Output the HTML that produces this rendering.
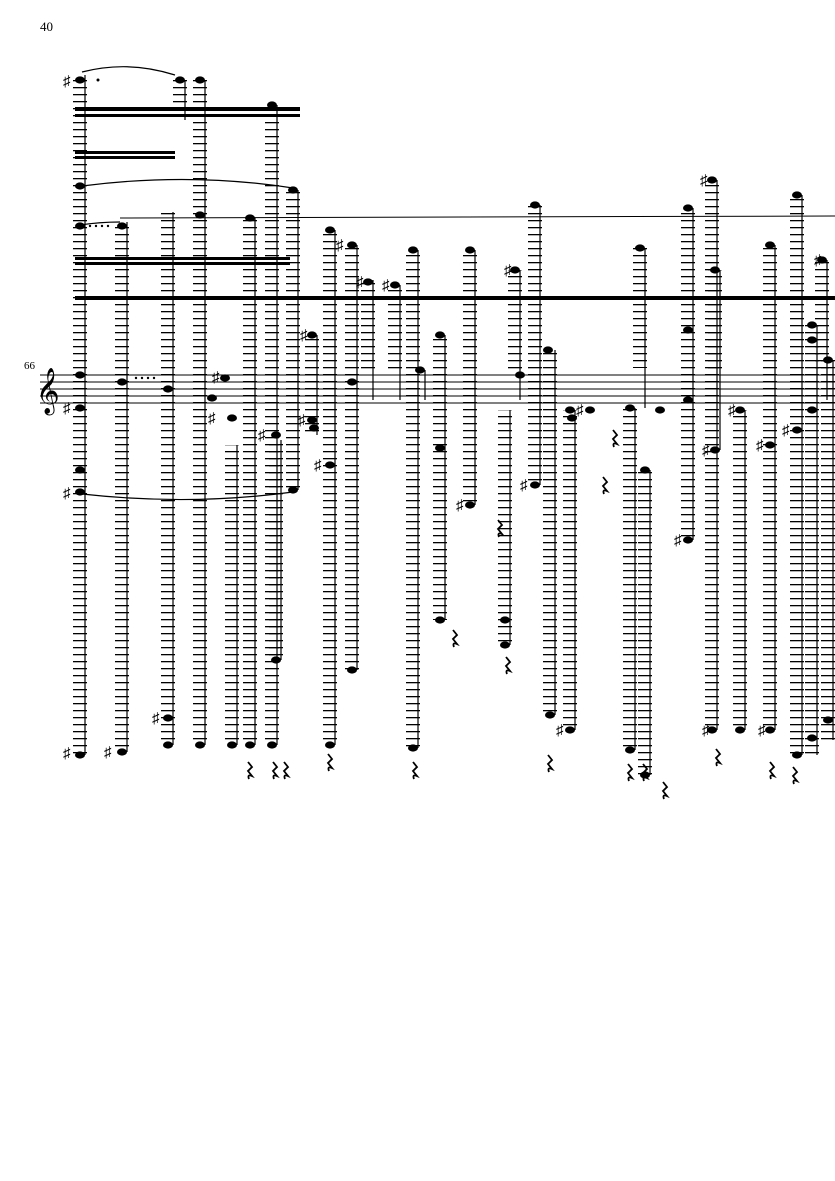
<!DOCTYPE html>
<html><head><meta charset="utf-8"><style>
html,body{margin:0;padding:0;background:#fff;}
svg{display:block}
text{font-family:"Liberation Serif","DejaVu Serif",serif;}
</style></head><body>
<svg width="835" height="1181" viewBox="0 0 835 1181" xmlns="http://www.w3.org/2000/svg">
<defs>
<pattern id="led" x="0" y="0" width="14" height="7" patternUnits="userSpaceOnUse">
<rect x="0" y="3" width="14" height="1.3" fill="#000"/>
</pattern>
</defs>
<text x="40" y="31" font-size="13">40</text>
<text x="24" y="369" font-size="11">66</text>
<g stroke="#000" stroke-width="0.9">
<line x1="40" y1="375" x2="835" y2="375"/>
<line x1="40" y1="382" x2="835" y2="382"/>
<line x1="40" y1="389" x2="835" y2="389"/>
<line x1="40" y1="396" x2="835" y2="396"/>
<line x1="40" y1="403" x2="835" y2="403"/>
</g>
<text x="36" y="404" font-size="40">𝄞</text>
<rect x="75" y="296" width="760" height="4" fill="#000"/>
<line x1="120" y1="218" x2="835" y2="216" stroke="#000" stroke-width="1"/>
<rect x="75" y="107" width="225" height="4" fill="#000"/>
<rect x="75" y="114" width="225" height="3" fill="#000"/>
<rect x="75" y="151" width="100" height="3" fill="#000"/>
<rect x="75" y="156" width="100" height="3" fill="#000"/>
<rect x="75" y="257" width="215" height="3" fill="#000"/>
<rect x="75" y="262" width="215" height="3" fill="#000"/>
<g fill="none" stroke="#000" stroke-width="1.2">
<path d="M82 72 Q128 60 175 75"/>
<path d="M82 186 Q190 172 293 188"/>
<path d="M82 494 Q190 506 293 492"/>
<path d="M80 225 Q100 222 120 222"/>
</g>
<!-- ledger stacks -->
<g fill="url(#led)">
<rect x="73" y="75" width="14" height="680"/>
<rect x="115" y="222" width="14" height="530"/>
<rect x="161" y="212" width="14" height="533"/>
<rect x="173" y="80" width="14" height="40"/>
<rect x="193" y="80" width="14" height="665"/>
<rect x="225" y="445" width="14" height="300"/>
<rect x="243" y="218" width="14" height="527"/>
<rect x="265" y="105" width="14" height="640"/>
<rect x="269" y="440" width="14" height="220"/>
<rect x="286" y="190" width="14" height="300"/>
<rect x="305" y="335" width="14" height="100"/>
<rect x="323" y="230" width="14" height="515"/>
<rect x="345" y="245" width="14" height="425"/>
<rect x="361" y="280" width="14" height="90"/>
<rect x="388" y="285" width="14" height="85"/>
<rect x="406" y="250" width="14" height="498"/>
<rect x="433" y="335" width="14" height="285"/>
<rect x="463" y="250" width="14" height="255"/>
<rect x="498" y="410" width="14" height="235"/>
<rect x="508" y="270" width="14" height="100"/>
<rect x="528" y="205" width="14" height="280"/>
<rect x="543" y="350" width="14" height="365"/>
<rect x="563" y="410" width="14" height="320"/>
<rect x="623" y="408" width="14" height="342"/>
<rect x="633" y="248" width="14" height="120"/>
<rect x="638" y="470" width="14" height="305"/>
<rect x="681" y="208" width="14" height="332"/>
<rect x="705" y="180" width="14" height="550"/>
<rect x="708" y="270" width="14" height="100"/>
<rect x="733" y="410" width="14" height="320"/>
<rect x="763" y="245" width="14" height="485"/>
<rect x="790" y="195" width="14" height="560"/>
<rect x="805" y="325" width="14" height="430"/>
<rect x="815" y="260" width="14" height="110"/>
<rect x="821" y="360" width="14" height="380"/>
</g>
<!-- stems -->
<g stroke="#000" stroke-width="1.2">
<line x1="85" y1="75" x2="85" y2="755"/>
<line x1="127" y1="222" x2="127" y2="752"/>
<line x1="173" y1="212" x2="173" y2="745"/>
<line x1="185" y1="80" x2="185" y2="120"/>
<line x1="205" y1="80" x2="205" y2="745"/>
<line x1="237" y1="445" x2="237" y2="745"/>
<line x1="255" y1="218" x2="255" y2="745"/>
<line x1="277" y1="105" x2="277" y2="745"/>
<line x1="281" y1="440" x2="281" y2="660"/>
<line x1="298" y1="190" x2="298" y2="490"/>
<line x1="317" y1="335" x2="317" y2="435"/>
<line x1="335" y1="230" x2="335" y2="745"/>
<line x1="357" y1="245" x2="357" y2="670"/>
<line x1="373" y1="280" x2="373" y2="400"/>
<line x1="400" y1="285" x2="400" y2="400"/>
<line x1="418" y1="250" x2="418" y2="748"/>
<line x1="425" y1="370" x2="425" y2="400"/>
<line x1="445" y1="335" x2="445" y2="620"/>
<line x1="475" y1="250" x2="475" y2="505"/>
<line x1="510" y1="410" x2="510" y2="645"/>
<line x1="520" y1="270" x2="520" y2="400"/>
<line x1="540" y1="205" x2="540" y2="485"/>
<line x1="555" y1="350" x2="555" y2="715"/>
<line x1="575" y1="410" x2="575" y2="730"/>
<line x1="635" y1="408" x2="635" y2="750"/>
<line x1="645" y1="248" x2="645" y2="408"/>
<line x1="650" y1="470" x2="650" y2="775"/>
<line x1="693" y1="208" x2="693" y2="540"/>
<line x1="717" y1="180" x2="717" y2="730"/>
<line x1="720" y1="270" x2="720" y2="450"/>
<line x1="745" y1="410" x2="745" y2="730"/>
<line x1="775" y1="245" x2="775" y2="730"/>
<line x1="802" y1="195" x2="802" y2="755"/>
<line x1="817" y1="325" x2="817" y2="755"/>
<line x1="827" y1="260" x2="827" y2="400"/>
<line x1="833" y1="360" x2="833" y2="740"/>
</g>
<!-- noteheads -->
<g fill="#000">
<ellipse cx="80" cy="80" rx="5" ry="3.6"/><ellipse cx="80" cy="755" rx="5" ry="3.6"/>
<ellipse cx="80" cy="186" rx="5" ry="3.6"/><ellipse cx="80" cy="226" rx="5" ry="3.6"/>
<ellipse cx="80" cy="375" rx="5" ry="3.6"/><ellipse cx="80" cy="408" rx="5" ry="3.6"/>
<ellipse cx="80" cy="470" rx="5" ry="3.6"/><ellipse cx="80" cy="492" rx="5" ry="3.6"/>
<ellipse cx="122" cy="226" rx="5" ry="3.6"/><ellipse cx="122" cy="752" rx="5" ry="3.6"/>
<ellipse cx="122" cy="382" rx="5" ry="3.6"/>
<ellipse cx="168" cy="389" rx="5" ry="3.6"/><ellipse cx="168" cy="745" rx="5" ry="3.6"/><ellipse cx="168" cy="718" rx="5" ry="3.6"/>
<ellipse cx="180" cy="80" rx="5" ry="3.6"/>
<ellipse cx="200" cy="80" rx="5" ry="3.6"/><ellipse cx="200" cy="215" rx="5" ry="3.6"/><ellipse cx="200" cy="745" rx="5" ry="3.6"/>
<ellipse cx="212" cy="398" rx="5" ry="3.6"/><ellipse cx="225" cy="378" rx="5" ry="3.6"/>
<ellipse cx="232" cy="418" rx="5" ry="3.6"/><ellipse cx="232" cy="745" rx="5" ry="3.6"/>
<ellipse cx="250" cy="218" rx="5" ry="3.6"/><ellipse cx="250" cy="745" rx="5" ry="3.6"/>
<ellipse cx="272" cy="105" rx="5" ry="3.6"/><ellipse cx="272" cy="745" rx="5" ry="3.6"/>
<ellipse cx="276" cy="435" rx="5" ry="3.6"/><ellipse cx="276" cy="660" rx="5" ry="3.6"/>
<ellipse cx="293" cy="190" rx="5" ry="3.6"/><ellipse cx="293" cy="490" rx="5" ry="3.6"/>
<ellipse cx="312" cy="335" rx="5" ry="3.6"/><ellipse cx="312" cy="420" rx="5" ry="3.6"/><ellipse cx="314" cy="428" rx="5" ry="3.6"/>
<ellipse cx="330" cy="230" rx="5" ry="3.6"/><ellipse cx="330" cy="465" rx="5" ry="3.6"/><ellipse cx="330" cy="745" rx="5" ry="3.6"/>
<ellipse cx="352" cy="245" rx="5" ry="3.6"/><ellipse cx="352" cy="382" rx="5" ry="3.6"/><ellipse cx="352" cy="670" rx="5" ry="3.6"/>
<ellipse cx="368" cy="282" rx="5" ry="3.6"/><ellipse cx="395" cy="285" rx="5" ry="3.6"/>
<ellipse cx="413" cy="250" rx="5" ry="3.6"/><ellipse cx="413" cy="748" rx="5" ry="3.6"/>
<ellipse cx="420" cy="370" rx="5" ry="3.6"/>
<ellipse cx="440" cy="335" rx="5" ry="3.6"/><ellipse cx="440" cy="448" rx="5" ry="3.6"/><ellipse cx="440" cy="620" rx="5" ry="3.6"/>
<ellipse cx="470" cy="250" rx="5" ry="3.6"/><ellipse cx="470" cy="505" rx="5" ry="3.6"/>
<ellipse cx="505" cy="620" rx="5" ry="3.6"/><ellipse cx="505" cy="645" rx="5" ry="3.6"/>
<ellipse cx="515" cy="270" rx="5" ry="3.6"/>
<ellipse cx="520" cy="375" rx="5" ry="3.6"/>
<ellipse cx="535" cy="205" rx="5" ry="3.6"/><ellipse cx="535" cy="485" rx="5" ry="3.6"/>
<ellipse cx="548" cy="350" rx="5" ry="3.6"/><ellipse cx="550" cy="715" rx="5" ry="3.6"/>
<ellipse cx="570" cy="410" rx="5" ry="3.6"/><ellipse cx="570" cy="730" rx="5" ry="3.6"/><ellipse cx="572" cy="418" rx="5" ry="3.6"/>
<ellipse cx="590" cy="410" rx="5" ry="3.6"/>
<ellipse cx="630" cy="408" rx="5" ry="3.6"/><ellipse cx="630" cy="750" rx="5" ry="3.6"/>
<ellipse cx="640" cy="248" rx="5" ry="3.6"/><ellipse cx="645" cy="470" rx="5" ry="3.6"/><ellipse cx="645" cy="775" rx="5" ry="3.6"/>
<ellipse cx="660" cy="410" rx="5" ry="3.6"/>
<ellipse cx="688" cy="208" rx="5" ry="3.6"/><ellipse cx="688" cy="330" rx="5" ry="3.6"/><ellipse cx="688" cy="400" rx="5" ry="3.6"/><ellipse cx="688" cy="540" rx="5" ry="3.6"/>
<ellipse cx="712" cy="180" rx="5" ry="3.6"/><ellipse cx="712" cy="730" rx="5" ry="3.6"/><ellipse cx="715" cy="270" rx="5" ry="3.6"/><ellipse cx="715" cy="450" rx="5" ry="3.6"/>
<ellipse cx="740" cy="410" rx="5" ry="3.6"/><ellipse cx="740" cy="730" rx="5" ry="3.6"/>
<ellipse cx="770" cy="245" rx="5" ry="3.6"/><ellipse cx="770" cy="445" rx="5" ry="3.6"/><ellipse cx="770" cy="730" rx="5" ry="3.6"/>
<ellipse cx="797" cy="195" rx="5" ry="3.6"/><ellipse cx="797" cy="755" rx="5" ry="3.6"/><ellipse cx="797" cy="430" rx="5" ry="3.6"/>
<ellipse cx="812" cy="325" rx="5" ry="3.6"/><ellipse cx="812" cy="340" rx="5" ry="3.6"/><ellipse cx="812" cy="410" rx="5" ry="3.6"/><ellipse cx="812" cy="738" rx="5" ry="3.6"/>
<ellipse cx="822" cy="260" rx="5" ry="3.6"/><ellipse cx="828" cy="360" rx="5" ry="3.6"/><ellipse cx="828" cy="720" rx="5" ry="3.6"/>
</g>
<!-- sharps -->
<g font-size="15">
<text x="63" y="86">♯</text><text x="63" y="413">♯</text><text x="63" y="498">♯</text><text x="63" y="758">♯</text>
<text x="104" y="757">♯</text><text x="152" y="723">♯</text><text x="208" y="423">♯</text><text x="212" y="382">♯</text>
<text x="258" y="440">♯</text><text x="298" y="425">♯</text><text x="300" y="340">♯</text><text x="314" y="470">♯</text>
<text x="336" y="250">♯</text><text x="356" y="287">♯</text><text x="382" y="290">♯</text><text x="456" y="510">♯</text>
<text x="504" y="275">♯</text><text x="520" y="490">♯</text><text x="576" y="415">♯</text><text x="556" y="735">♯</text>
<text x="700" y="185">♯</text><text x="702" y="735">♯</text><text x="674" y="545">♯</text><text x="702" y="455">♯</text>
<text x="728" y="415">♯</text><text x="756" y="450">♯</text><text x="782" y="435">♯</text><text x="758" y="735">♯</text>
<text x="814" y="265">♯</text>
</g>
<!-- rests -->
<g fill="none" stroke="#000" stroke-width="1.8">
<path d="M248 762 l4 5 l-4 4 l4 5 q-5 -2 -3 3"/>
<path d="M273 762 l4 5 l-4 4 l4 5 q-5 -2 -3 3"/>
<path d="M284 762 l4 5 l-4 4 l4 5 q-5 -2 -3 3"/>
<path d="M328 754 l4 5 l-4 4 l4 5 q-5 -2 -3 3"/>
<path d="M413 762 l4 5 l-4 4 l4 5 q-5 -2 -3 3"/>
<path d="M453 630 l4 5 l-4 4 l4 5 q-5 -2 -3 3"/>
<path d="M506 657 l4 5 l-4 4 l4 5 q-5 -2 -3 3"/>
<path d="M498 520 l4 5 l-4 4 l4 5 q-5 -2 -3 3"/>
<path d="M548 755 l4 5 l-4 4 l4 5 q-5 -2 -3 3"/>
<path d="M628 764 l4 5 l-4 4 l4 5 q-5 -2 -3 3"/>
<path d="M643 764 l4 5 l-4 4 l4 5 q-5 -2 -3 3"/>
<path d="M663 782 l4 5 l-4 4 l4 5 q-5 -2 -3 3"/>
<path d="M613 430 l4 5 l-4 4 l4 5 q-5 -2 -3 3"/>
<path d="M603 477 l4 5 l-4 4 l4 5 q-5 -2 -3 3"/>
<path d="M716 749 l4 5 l-4 4 l4 5 q-5 -2 -3 3"/>
<path d="M770 762 l4 5 l-4 4 l4 5 q-5 -2 -3 3"/>
<path d="M793 767 l4 5 l-4 4 l4 5 q-5 -2 -3 3"/>
</g>
<g fill="#000">
<circle cx="98" cy="80" r="1.5"/><circle cx="136" cy="378" r="1.2"/><circle cx="142" cy="378" r="1.2"/><circle cx="148" cy="378" r="1.2"/><circle cx="154" cy="378" r="1.2"/>
<circle cx="90" cy="226" r="1.2"/><circle cx="96" cy="226" r="1.2"/><circle cx="102" cy="226" r="1.2"/><circle cx="108" cy="226" r="1.2"/>
</g>
</svg>
</body></html>
